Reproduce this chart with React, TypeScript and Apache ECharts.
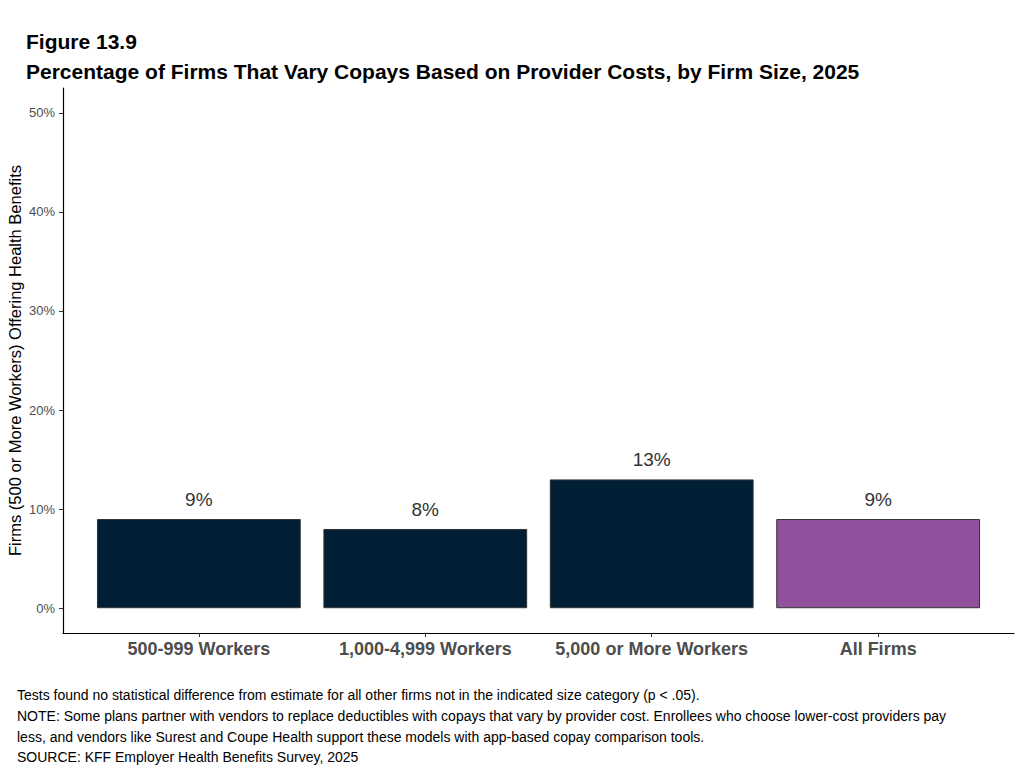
import React, { useEffect, useRef } from "react";
import * as echarts from "echarts";

const categories = ["500-999 Workers", "1,000-4,999 Workers", "5,000 or More Workers", "All Firms"];
const values = [9, 8, 13, 9];
const barColors = ["#001f35", "#001f35", "#001f35", "#92519c"];
const yTicks = [0, 10, 20, 30, 40, 50];
const xPositions = [1, 2, 3, 4];
const footnotes = [
  "Tests found no statistical difference from estimate for all other firms not in the indicated size category (p < .05).",
  "NOTE: Some plans partner with vendors to replace deductibles with copays that vary by provider cost. Enrollees who choose lower-cost providers pay",
  "less, and vendors like Surest and Coupe Health support these models with app-based copay comparison tools.",
  "SOURCE: KFF Employer Health Benefits Survey, 2025",
];

const FONT = "'Liberation Sans', Arial, Helvetica, sans-serif";

export default function App() {
  const ref = useRef<HTMLDivElement>(null);
  useEffect(() => {
    if (!ref.current) return;
    const chart = echarts.init(ref.current, null, { renderer: "svg" });
    const footY = [696, 717, 738, 758];
    chart.setOption({
      animation: false,
      backgroundColor: "#ffffff",
      textStyle: { fontFamily: FONT },
      graphic: [
        {
          type: "text",
          left: 26,
          top: 31,
          style: { text: "Figure 13.9", font: `bold 21px ${FONT}`, fill: "#000000" },
        },
        {
          type: "text",
          left: 26,
          top: 61,
          style: {
            text: "Percentage of Firms That Vary Copays Based on Provider Costs, by Firm Size, 2025",
            font: `bold 21px ${FONT}`,
            fill: "#000000",
          },
        },
        ...footnotes.map((t, i) => ({
          type: "text",
          left: 17,
          top: footY[i] - 8,
          style: { text: t, font: `14px ${FONT}`, fill: "#000000" },
        })),
      ],
      grid: { left: 63, right: 9, top: 88, bottom: 137, containLabel: false, outerBoundsMode: "none" },
      xAxis: {
        type: "value",
        min: 0.4,
        max: 4.6,
        splitLine: { show: false },
        axisLine: { show: true, onZero: false, lineStyle: { color: "#000000", width: 1.2 } },
        axisTick: {
          show: true,
          length: 4,
          customValues: xPositions,
          lineStyle: { color: "#333333" },
        },
        axisLabel: {
          customValues: xPositions,
          formatter: (v: number) => categories[Math.round(v) - 1] ?? "",
          fontSize: 18,
          fontWeight: "bold",
          color: "#4d4d4d",
          margin: 7,
          fontFamily: FONT,
        },
      },
      yAxis: {
        type: "value",
        min: -2.5,
        max: 52.5,
        name: "Firms (500 or More Workers) Offering Health Benefits",
        nameLocation: "middle",
        nameRotate: 90,
        nameGap: 40,
        nameMoveOverlap: false,
        nameTextStyle: { fontSize: 16.5, color: "#000000", fontFamily: FONT },
        splitLine: { show: false },
        axisLine: { show: true, onZero: false, lineStyle: { color: "#000000", width: 1.2 } },
        axisTick: { show: true, length: 4, customValues: yTicks, lineStyle: { color: "#333333" } },
        axisLabel: {
          customValues: yTicks,
          formatter: (v: number) => `${v}%`,
          fontSize: 13,
          color: "#4d4d4d",
          margin: 8,
          fontFamily: FONT,
        },
      },
      series: [
        {
          type: "bar",
          barWidth: "90%",
          data: values.map((v, i) => ({
            value: [xPositions[i], v],
            itemStyle: { color: barColors[i], borderColor: "#333333", borderWidth: 1 },
          })),
          label: {
            show: true,
            position: "top",
            distance: 10,
            formatter: (p: any) => `${p.value[1]}%`,
            fontSize: 19,
            color: "#333333",
            fontFamily: FONT,
          },
        },
      ],
    });
    return () => chart.dispose();
  }, []);
  return (
    <div
      ref={ref}
      style={{ position: "fixed", left: 0, top: 0, width: 1023, height: 770, background: "#fff" }}
    />
  );
}
